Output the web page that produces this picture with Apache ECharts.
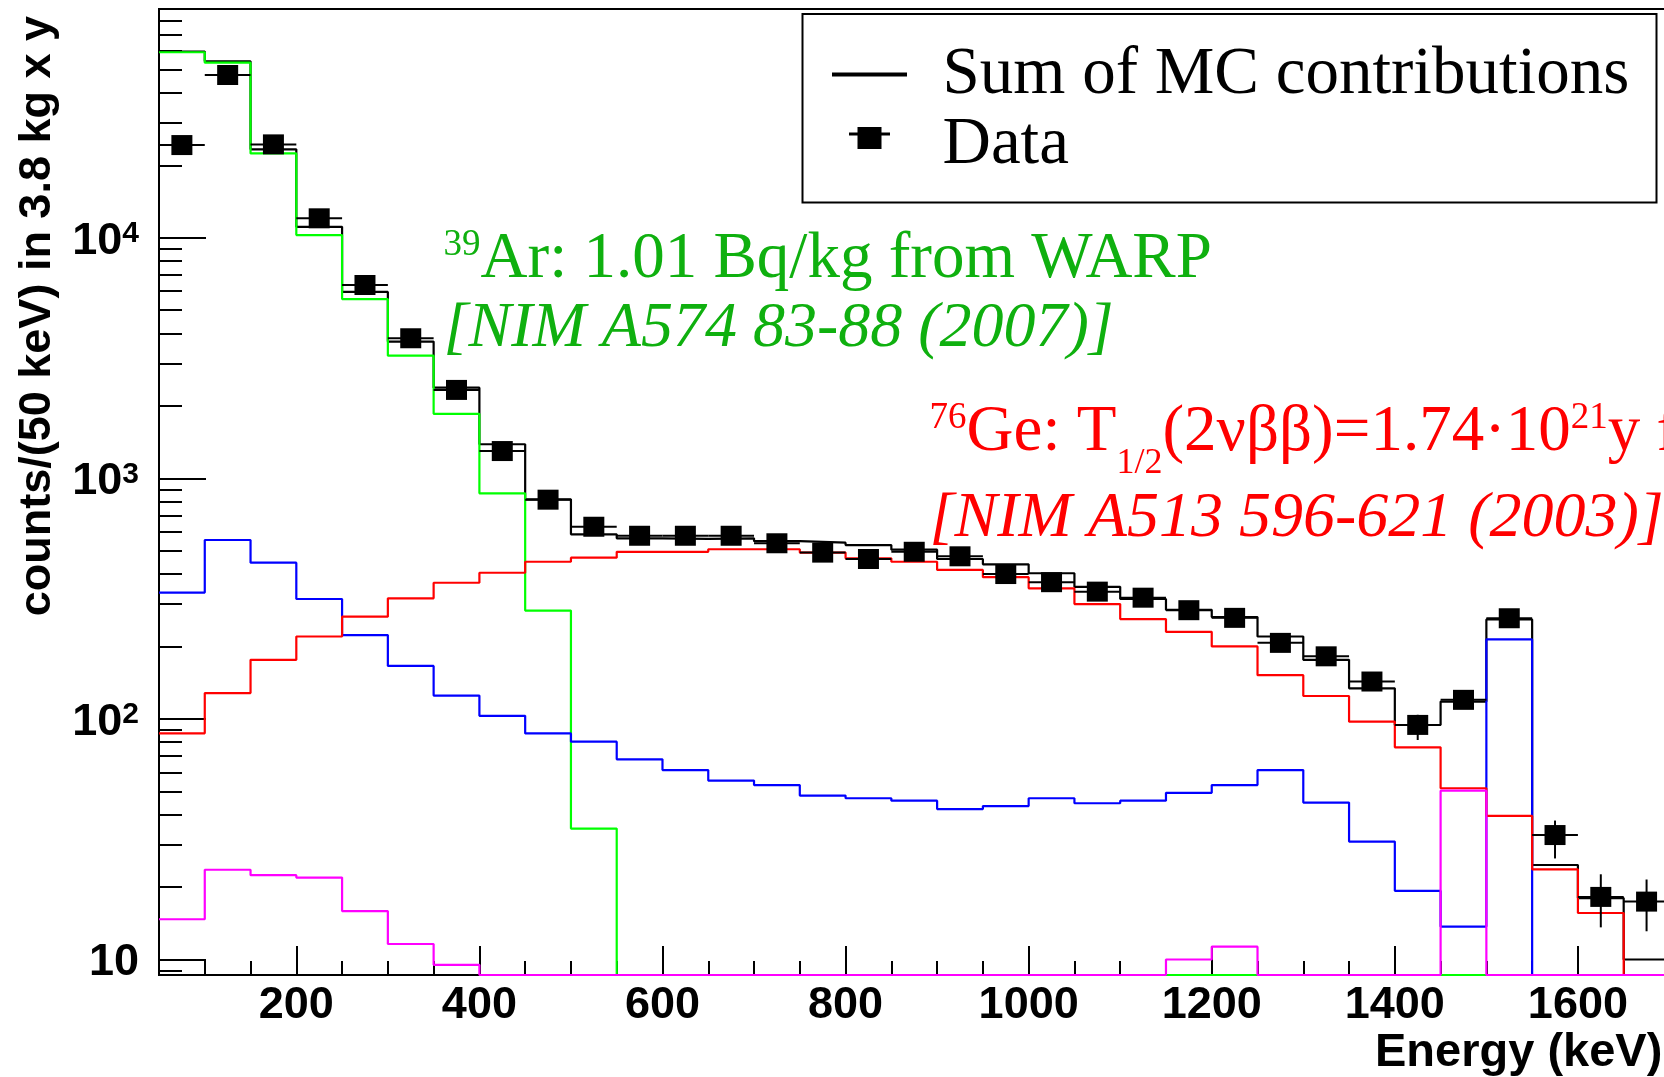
<!DOCTYPE html>
<html><head><meta charset="utf-8">
<script src="https://cdn.jsdelivr.net/npm/echarts@6/dist/echarts.min.js"></script>
<style>html,body{margin:0;padding:0;background:#fff}#c{width:1664px;height:1077px}</style>
</head><body><div id="c"></div>
<script>
// ---- data (bin centres in keV, bins are 50 keV wide) ----
const BIN_CENTERS = [75,125,175,225,275,325,375,425,475,525,575,625,675,725,775,825,875,925,975,1025,1075,1125,1175,1225,1275,1325,1375,1425,1475,1525,1575,1625,1675];
const BIN_WIDTH = 50;
const SUM_MC = [59400,54100,23300,11100,5950,3700,2380,1385,818,585,563,560,563,548,540,528,505,462,439,403,354,315,284,265,220,176,134,94.3,118,259,24.7,18.0,10.0];
const AR39 = [59000,53400,22400,10260,5560,3235,1853,866,282,35,0,0,0,0,0,0,0,0,0,0,0,0,0,0,0,0,0,0,0,0,0,0,0];
const BLUE_COMP = [335,554,446,315,223,166,125,103,87,80.4,67.9,61.3,55.4,53.1,48.0,46.8,45.7,42.2,43.4,46.8,44.6,45.7,49.3,53.1,61.3,44.9,30.9,19.3,13.7,214,0,0,0];
const GE76 = [87.1,128,176,220,266,317,368,405,450,468,495,495,507,507,491,465,450,416,388,349,300,260,230,200,152,124.5,97.4,76.2,51.5,39.5,23.7,15.6,0];
const MAGENTA_COMP = [14.7,23.6,22.4,21.9,15.9,11.6,9.5,0,0,0,0,0,0,0,0,0,0,0,0,0,0,0,10.0,11.3,0,0,0,0,50.3,0,0,0,0];
const DATA = [24270,47450,24430,12040,6360,3820,2330,1298,815,629,577,577,577,537,491,462,495,474,400,370,338,319,283,263,207,182,143,94.4,120,262,32.9,18.2,17.4];
const DATA_ERR_LO = [null,null,null,null,null,null,null,null,null,null,null,null,null,null,null,null,null,null,null,null,null,null,null,null,null,null,null,81.7,null,null,26.3,13.6,13.1];
const DATA_ERR_HI = [null,null,null,null,null,null,null,null,null,null,null,null,null,null,null,null,null,null,null,null,null,null,null,null,null,null,null,104,null,null,37.8,22.6,21.5];
const X_TICKS_MAJOR = [200,400,600,800,1000,1200,1400,1600,1800];
const X_TICKS_MINOR = [100,150,250,300,350,450,500,550,650,700,750,850,900,950,1050,1100,1150,1250,1300,1350,1450,1500,1550,1650,1700,1750];
const Y_TICKS_MAJOR = [10,100,1000,10000];
const Y_TICKS_MINOR = [9,20,30,40,50,60,70,80,90,200,300,400,500,600,700,800,900,2000,3000,4000,5000,6000,7000,8000,9000,20000,30000,40000,50000,60000,70000,80000];

const Y_MIN = 8.62, Y_MAX = 89250;
const X_MIN = 50, X_MAX = 1800;
const SANS = 'Liberation Sans, Arial, sans-serif';
const SERIF = 'Liberation Serif, Times New Roman, serif';

function stepData(vals){
  const out = [];
  vals.forEach((v,i)=>{
    const y = v > 0 ? v : Y_MIN;
    out.push([BIN_CENTERS[i]-BIN_WIDTH/2, y],[BIN_CENTERS[i]+BIN_WIDTH/2, y]);
  });
  return out;
}
function hist(name, vals, color){
  return {type:'line', name, data: stepData(vals), showSymbol:false, symbol:'none', clip:false,
    lineStyle:{color, width:2.2}, silent:true, animation:false};
}

const chart = echarts.init(document.getElementById('c'), null, {renderer:'canvas', width:1664, height:1077});

const tickStyle = {color:'#000', width:2};
const option = {
  animation:false,
  backgroundColor:'#fff',
  grid:{left:159, top:9, width:1602, height:966, containLabel:false, outerBoundsMode:'none',
    show:true, borderColor:'#000', borderWidth:2, backgroundColor:'transparent'},
  xAxis:[{
    type:'value', min:X_MIN, max:X_MAX, position:'bottom',
    axisLine:{show:true, onZero:false, lineStyle:{color:'#000', width:2}},
    axisTick:{show:true, inside:true, length:29, lineStyle:tickStyle, customValues:X_TICKS_MAJOR},
    axisLabel:{show:true, customValues:X_TICKS_MAJOR, margin:8, fontSize:45, fontWeight:'bold', fontFamily:SANS, color:'#000',
      formatter:(v)=>String(v)},
    splitLine:{show:false}
  },{
    type:'value', min:X_MIN, max:X_MAX, position:'bottom', offset:0,
    axisLine:{show:false, onZero:false},
    axisTick:{show:true, inside:true, length:14, lineStyle:tickStyle, customValues:X_TICKS_MINOR},
    axisLabel:{show:false},
    splitLine:{show:false}
  }],
  yAxis:[{
    type:'log', logBase:10, min:Y_MIN, max:Y_MAX, position:'left',
    axisLine:{show:true, onZero:false, lineStyle:{color:'#000', width:2}},
    axisTick:{show:true, inside:true, length:47, lineStyle:tickStyle, customValues:Y_TICKS_MAJOR},
    axisLabel:{show:true, customValues:Y_TICKS_MAJOR, margin:20, padding:[8,0,0,0],
      formatter:(v)=>{ const e = Math.round(Math.log10(v)); return e===1 ? '{b|10}' : '{b|10}{s|'+e+'}'; },
      rich:{
        b:{fontSize:45, fontWeight:'bold', fontFamily:SANS, color:'#000', lineHeight:46, verticalAlign:'top'},
        s:{fontSize:30, fontWeight:'bold', fontFamily:SANS, color:'#000', lineHeight:20, verticalAlign:'top'}
      }},
    splitLine:{show:false}, minorTick:{show:false}
  },{
    type:'log', logBase:10, min:Y_MIN, max:Y_MAX, position:'left', offset:0,
    axisLine:{show:false, onZero:false},
    axisTick:{show:true, inside:true, length:23, lineStyle:tickStyle, customValues:Y_TICKS_MINOR},
    axisLabel:{show:false},
    splitLine:{show:false}
  }],
  series:[
    hist('Sum of MC contributions', SUM_MC, '#000000'),
    hist('39Ar', AR39, '#00ff00'),
    hist('blue component', BLUE_COMP, '#0000ff'),
    hist('76Ge 2nbb', GE76, '#ff0000'),
    hist('magenta component', MAGENTA_COMP, '#ff00ff'),
    {
      type:'custom', name:'Data', z:10, silent:true,
      data: DATA.map((v,i)=>[BIN_CENTERS[i], v, DATA_ERR_LO[i] || 0, DATA_ERR_HI[i] || 0]),
      encode:{x:0, y:1},
      renderItem:(params, api)=>{
        const x = api.value(0), y = api.value(1), lo = api.value(2), hi = api.value(3);
        const c = api.coord([x,y]);
        const l = api.coord([x-BIN_WIDTH/2, y]), r = api.coord([x+BIN_WIDTH/2, y]);
        const ch = [{type:'line', shape:{x1:l[0], y1:c[1], x2:r[0], y2:c[1]}, style:{stroke:'#000', lineWidth:2}}];
        if (lo > 0 && hi > 0){
          const a = api.coord([x,lo]), b = api.coord([x,hi]);
          ch.push({type:'line', shape:{x1:c[0], y1:a[1], x2:c[0], y2:b[1]}, style:{stroke:'#000', lineWidth:2}});
        }
        ch.push({type:'rect', shape:{x:c[0]-10.5, y:c[1]-10, width:21, height:20}, style:{fill:'#000'}});
        return {type:'group', children:ch};
      }
    }
  ],
  graphic:[
    // legend
    {type:'rect', z:50, shape:{x:802.5, y:14, width:854, height:188.5}, style:{fill:'#fff', stroke:'#000', lineWidth:2}},
    {type:'line', z:51, shape:{x1:832, y1:74.5, x2:907, y2:74.5}, style:{stroke:'#000', lineWidth:4}},
    {type:'line', z:51, shape:{x1:849, y1:134, x2:890, y2:134}, style:{stroke:'#000', lineWidth:3}},
    {type:'rect', z:51, shape:{x:857.5, y:127, width:24, height:22}, style:{fill:'#000'}},
    {type:'text', z:51, x:942.5, y:75, style:{text:'Sum of MC contributions', font:'67px '+SERIF, fill:'#000', verticalAlign:'middle', align:'left'}},
    {type:'text', z:51, x:942.5, y:145, style:{text:'Data', font:'67px '+SERIF, fill:'#000', verticalAlign:'middle', align:'left'}},
    // annotations
    {type:'text', z:40, x:443.6, y:227, style:{
      text:'{sup|39}{m|Ar: 1.01 Bq/kg from WARP}', verticalAlign:'top', align:'left',
      rich:{
        sup:{fontSize:37, fontFamily:SERIF, fill:'#0fb00f', color:'#0fb00f', lineHeight:44, verticalAlign:'top'},
        m:{fontSize:65, fontFamily:SERIF, fill:'#0fb00f', color:'#0fb00f', lineHeight:70, verticalAlign:'top'}
      }}},
    {type:'text', z:40, x:443.6, y:329, style:{text:'[NIM A574 83-88 (2007)]', font:'italic 64px '+SERIF, fill:'#0fb00f', verticalAlign:'middle', align:'left'}},
    {type:'text', z:40, x:929.6, y:400, style:{
      text:'{sup|76}{m|Ge: T}{sub|1/2}{m|(2νββ)=1.74·10}{sup|21}{m|y from HdM}', verticalAlign:'top', align:'left',
      rich:{
        sup:{fontSize:37, fontFamily:SERIF, fill:'#ff0000', color:'#ff0000', lineHeight:44, verticalAlign:'top'},
        m:{fontSize:65, fontFamily:SERIF, fill:'#ff0000', color:'#ff0000', lineHeight:70, verticalAlign:'top'},
        sub:{fontSize:36, fontFamily:SERIF, fill:'#ff0000', color:'#ff0000', lineHeight:36, padding:[46,0,0,0], verticalAlign:'top'}
      }}},
    {type:'text', z:40, x:929.6, y:519, style:{text:'[NIM A513 596-621 (2003)]', font:'italic 64px '+SERIF, fill:'#ff0000', verticalAlign:'middle', align:'left'}},
    // axis titles
    {type:'text', z:40, x:38, y:16, rotation:Math.PI/2, style:{text:'counts/(50 keV) in 3.8 kg x y', font:'bold 45px '+SANS, fill:'#000', align:'right', verticalAlign:'middle'}},
    {type:'text', z:40, x:1375, y:1053, style:{text:'Energy (keV)', font:'bold 47px '+SANS, fill:'#000', align:'left', verticalAlign:'middle'}}
  ]
};
chart.setOption(option);
</script></body></html>
